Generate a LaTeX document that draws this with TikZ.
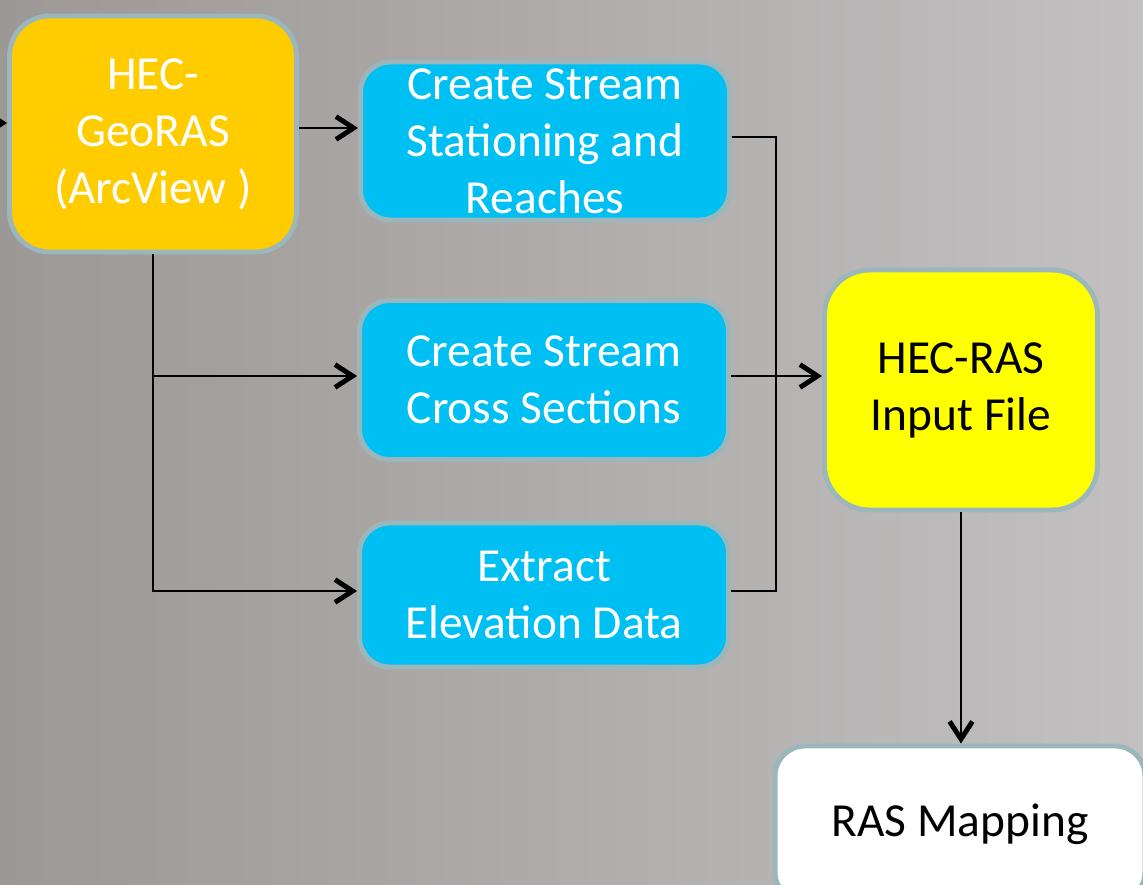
\documentclass[tikz,border=0pt]{standalone}
\usepackage{fontspec}
\setmainfont{Carlito}
\usepackage{xcolor}
\usepackage{tikz}
\usetikzlibrary{arrows.meta, positioning, calc}
\definecolor{toolorange}{HTML}{FFCC00}
\definecolor{stepcyan}{HTML}{00BFF2}
\definecolor{inputyellow}{HTML}{FFFF00}
\definecolor{boxedge}{HTML}{9BB7BB}
\definecolor{bgdark}{HTML}{9C9895}
\definecolor{bglight}{HTML}{C2C0C1}

\begin{document}
\begin{tikzpicture}[
  x=0.02cm, y=-0.02cm,
  every node/.style={rectangle, draw=boxedge, line width=2.8pt, align=center, inner sep=0pt,
    font=\fontsize{27}{32.5}\selectfont},
  toolbox/.style={fill=toolorange, text=white, rounded corners=0.8cm},
  stepbox/.style={fill=stepcyan, text=white, rounded corners=0.6cm, minimum width=7.38cm},
  inputbox/.style={fill=inputyellow, text=black, rounded corners=0.9cm},
  outbox/.style={fill=white, text=black, rounded corners=0.6cm},
  arr/.style={line width=1.1pt, -{Straight Barb[length=10pt, width=13pt, line width=2.8pt]}},
  link/.style={line width=1.1pt}
]
  % photo background
  \clip (0,0) rectangle (1143,885);
  \shade[left color=bgdark, right color=bglight] (0,0) rectangle (1143,885);

  \node[toolbox, minimum width=5.74cm, minimum height=4.72cm] (geo) at (153,134) {HEC-\\GeoRAS\\(ArcView )};
  \node[stepbox, minimum height=3.16cm] (stat) at (545,141) {Create Stream\\Stationing and\\Reaches};
  \node[stepbox, minimum height=3.18cm] (xsec) at (544,380) {Create Stream\\Cross Sections};
  \node[stepbox, minimum height=2.88cm] (elev) at (544,595) {Extract\\Elevation Data};
  \node[inputbox, minimum width=5.46cm, minimum height=4.8cm] (input) at (961,390) {HEC-RAS\\Input File};
  \node[outbox, minimum width=7.4cm, minimum height=3.12cm] (map) at (960,824) {RAS Mapping};

  \coordinate (src) at (0,123);
  \coordinate (bus) at (776,376);

  \draw[arr] (src) -- (src -| geo.west);
  \draw[arr] ([yshift=0.12cm]geo.east) -- ([yshift=0.12cm]geo.east -| stat.west);
  \draw[arr] (geo.south) |- ([yshift=0.08cm]xsec.west);
  \draw[arr] (geo.south) |- ([yshift=0.08cm]elev.west);
  \draw[link] ([yshift=0.08cm]stat.east) -- ([yshift=0.08cm]stat.east -| bus) |- ([yshift=0.08cm]elev.east);
  \draw[arr] ([yshift=0.08cm]xsec.east) -- ([yshift=0.08cm]xsec.east -| input.west);
  \draw[arr] (input.south) -- (input.south |- map.north);
\end{tikzpicture}
\end{document}
